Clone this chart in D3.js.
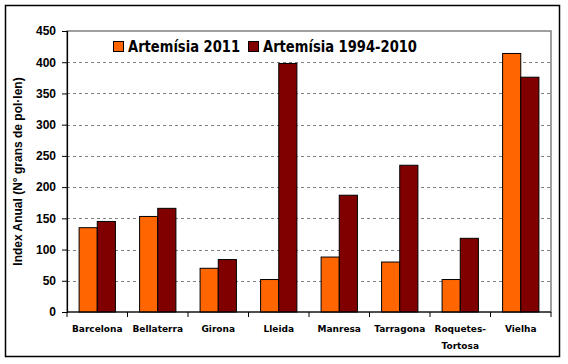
<!DOCTYPE html>
<html><head><meta charset="utf-8">
<script src="https://cdn.jsdelivr.net/npm/d3@7"></script>
<style>body{margin:0;background:#fff}svg{display:block}</style>
</head><body>
<script>
const categories = ["Barcelona","Bellaterra","Girona","Lleida","Manresa","Tarragona","Roquetes-Tortosa","Vielha"];
const labelLines = [["Barcelona"],["Bellaterra"],["Girona"],["Lleida"],["Manresa"],["Tarragona"],["Roquetes-","Tortosa"],["Vielha"]];
const series2011 = [135, 153, 70, 52, 88, 80, 52, 414];
const series9410 = [145, 166, 84, 398, 187, 235, 118, 376];
const seriesNames = ["Artemísia 2011","Artemísia 1994-2010"];
const colors = ["#FF6600","#800000"];
const yTicks = [0,50,100,150,200,250,300,350,400,450];

const W=568,H=364;
const svg=d3.select("body").append("svg").attr("width",W).attr("height",H);
svg.append("rect").attr("x",5.5).attr("y",5.5).attr("width",554).attr("height",351).attr("fill","#fff").attr("stroke","#000").attr("stroke-width",1.5);

const L=67,R=551,T=31,B=312;
const x=d3.scaleBand().domain(categories).range([L,R]);
const y=d3.scaleLinear().domain([0,450]).range([B,T]);
const g=svg.append("g");

g.append("rect").attr("x",L).attr("y",T).attr("width",R-L).attr("height",B-T).attr("fill","none").attr("stroke","#808080").attr("stroke-width",1.5);
g.selectAll(".grid").data(yTicks.filter(d=>d>0&&d<450)).join("line")
 .attr("x1",L).attr("x2",R).attr("y1",d=>Math.round(y(d))+0.5).attr("y2",d=>Math.round(y(d))+0.5)
 .attr("stroke","#808080").attr("stroke-dasharray","3,3");

const bw=x.bandwidth()*0.3;
const data=categories.map((c,i)=>({c,v:[series2011[i],series9410[i]]}));
data.forEach(d=>{
  d.v.forEach((v,j)=>{
    const x0=x(d.c)+x.bandwidth()*0.2+j*bw;
    g.append("rect").attr("x",x0).attr("y",y(v)).attr("width",bw).attr("height",B-y(v))
     .attr("fill",colors[j]).attr("stroke","#000").attr("stroke-width",1);
  });
});

const ya=g.append("g").attr("transform",`translate(${L},0)`).call(d3.axisLeft(y).tickValues(yTicks).tickSize(5).tickPadding(6));
ya.select(".domain").attr("stroke","#000").attr("stroke-width",1.2);
ya.selectAll("text").attr("font-family","Liberation Sans, Arial").attr("font-weight","bold").attr("font-size","12px").attr("fill","#000");
const xa=g.append("g").attr("transform",`translate(0,${B})`);
xa.append("line").attr("x1",L).attr("x2",R).attr("y1",0).attr("y2",0).attr("stroke","#000").attr("stroke-width",1.2);
const bounds=categories.map(c=>x(c)).concat([R]);
xa.selectAll(".xt").data(bounds).join("line").attr("x1",d=>d).attr("x2",d=>d).attr("y1",0).attr("y2",5).attr("stroke","#000");
categories.forEach((c,i)=>{
  const t=xa.append("text").attr("x",x(c)+x.bandwidth()/2).attr("y",20).attr("text-anchor","middle")
   .attr("font-family","DejaVu Sans, Verdana").attr("font-weight","bold").attr("font-size","9px").attr("fill","#000");
  labelLines[i].forEach((ln,k)=>t.append("tspan").attr("x",x(c)+x.bandwidth()/2).attr("dy",k?17:0).text(ln));
});

svg.append("text").attr("transform",`translate(22,${(T+B)/2}) rotate(-90)`).attr("text-anchor","middle")
 .attr("font-family","Liberation Sans, Arial").attr("font-weight","bold").attr("font-size","12px").text("Index Anual (N° grans de pol·len)");

const lg=svg.append("g");
const lx=[113,248], tl=[112,154];
seriesNames.forEach((n,j)=>{
  lg.append("rect").attr("x",lx[j]+0.5).attr("y",41.5).attr("width",10).attr("height",10).attr("fill",colors[j]).attr("stroke","#000");
  lg.append("text").attr("x",lx[j]+15).attr("y",52).attr("font-family","DejaVu Sans, Verdana").attr("font-weight","bold").attr("font-size","16px")
   .attr("textLength",tl[j]).attr("lengthAdjust","spacingAndGlyphs").text(n);
});
</script>
</body></html>
